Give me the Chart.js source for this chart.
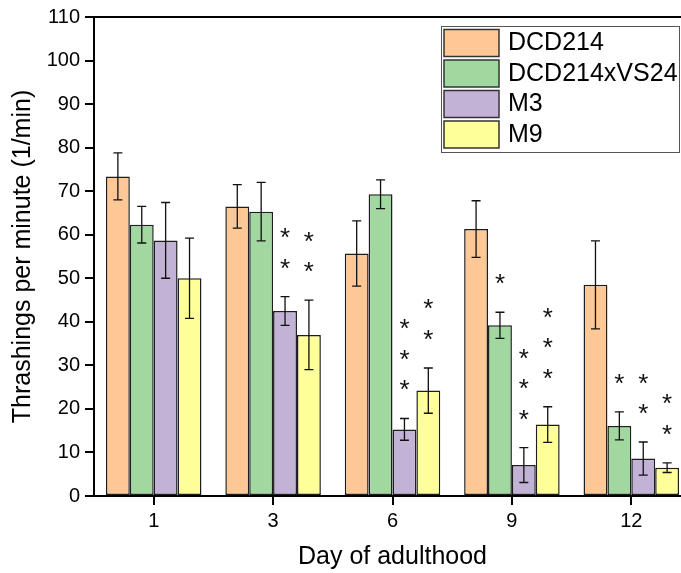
<!DOCTYPE html>
<html>
<head>
<meta charset="utf-8">
<script src="https://cdn.jsdelivr.net/npm/chart.js"></script>
<style>
html, body { margin: 0; padding: 0; background: #fff; overflow: hidden; }
canvas { display: block; }
</style>
</head>
<body>
<canvas id="chart" width="700" height="573"></canvas>
<script>
const days = ['1', '3', '6', '9', '12'];
const seriesNames = ['DCD214', 'DCD214xVS24', 'M3', 'M9'];

const dcd214 = [73.4, 66.5, 55.7, 61.3, 48.5];
const dcd214Err = [5.4, 5.0, 7.5, 6.5, 10.1];
const dcdVs24 = [62.3, 65.3, 69.3, 39.2, 16.1];
const dcdVs24Err = [4.2, 6.7, 3.3, 3.0, 3.2];
const m3 = [58.7, 42.5, 15.3, 7.1, 8.6];
const m3Err = [8.7, 3.3, 2.5, 4.0, 3.8];
const m9 = [50.0, 37.0, 24.2, 16.4, 6.5];
const m9Err = [9.2, 8.0, 5.2, 4.1, 1.1];

// how many asterisks sit above each bar
const dcd214Stars = [0, 0, 0, 0, 0];
const dcdVs24Stars = [0, 0, 0, 1, 1];
const m3Stars = [0, 2, 3, 3, 2];
const m9Stars = [0, 2, 2, 3, 2];

const yTicks = [0, 10, 20, 30, 40, 50, 60, 70, 80, 90, 100, 110];

const FONT = "'Liberation Sans', Arial, sans-serif";

function makeSet(i, data, err, stars, color) {
    return {
        label: seriesNames[i],
        data: data,
        err: err,
        stars: stars,
        backgroundColor: color,
        borderColor: '#1e1e1e',
        borderWidth: 1.5,
        borderSkipped: false,
        categoryPercentage: 0.8,
        barPercentage: 1.0
    };
}

// error bars with caps
const errorBars = {
    id: 'errorBars',
    afterDatasetsDraw(chart) {
        const ctx = chart.ctx;
        const y = chart.scales.y;
        ctx.save();
        ctx.strokeStyle = '#111';
        ctx.lineWidth = 1.3;
        chart.data.datasets.forEach((ds, di) => {
            const meta = chart.getDatasetMeta(di);
            meta.data.forEach((bar, i) => {
                const v = ds.data[i], e = ds.err[i];
                const top = y.getPixelForValue(v + e);
                const bot = y.getPixelForValue(v - e);
                const x = bar.x;
                ctx.beginPath();
                ctx.moveTo(x, top); ctx.lineTo(x, bot);
                ctx.moveTo(x - 4.5, top); ctx.lineTo(x + 4.5, top);
                ctx.moveTo(x - 4.5, bot); ctx.lineTo(x + 4.5, bot);
                ctx.stroke();
            });
        });
        ctx.restore();
    }
};

// significance asterisks stacked above the error bars
const stars = {
    id: 'stars',
    afterDatasetsDraw(chart) {
        const ctx = chart.ctx;
        const y = chart.scales.y;
        ctx.save();
        ctx.fillStyle = '#111';
        ctx.font = '26px ' + FONT;
        ctx.textAlign = 'center';
        ctx.textBaseline = 'alphabetic';
        const m = ctx.measureText('*');
        const shift = (m.actualBoundingBoxDescent - m.actualBoundingBoxAscent) / 2;
        chart.data.datasets.forEach((ds, di) => {
            const meta = chart.getDatasetMeta(di);
            meta.data.forEach((bar, i) => {
                const n = ds.stars[i];
                const top = y.getPixelForValue(ds.data[i] + ds.err[i]);
                for (let k = 0; k < n; k++) {
                    const cy = top - 33 - k * 30.5;
                    ctx.fillText('*', bar.x, cy - shift);
                }
            });
        });
        ctx.restore();
    }
};

// boxed legend inside the plot, upper right
const boxLegend = {
    id: 'boxLegend',
    afterDraw(chart) {
        const ctx = chart.ctx;
        const x0 = 441, y0 = 26, w = 238, h = 126;
        ctx.save();
        ctx.fillStyle = '#fff';
        ctx.fillRect(x0, y0, w, h);
        ctx.strokeStyle = '#555';
        ctx.lineWidth = 1;
        ctx.strokeRect(x0 + 0.5, y0 + 0.5, w, h);
        ctx.font = '25px ' + FONT;
        ctx.textBaseline = 'middle';
        ctx.textAlign = 'left';
        chart.data.datasets.forEach((ds, i) => {
            const sy = 29.5 + i * 30.5;
            ctx.fillStyle = ds.backgroundColor;
            ctx.fillRect(444, sy, 55, 27);
            ctx.strokeStyle = '#333';
            ctx.lineWidth = 1.5;
            ctx.strokeRect(444, sy, 55, 27);
            ctx.fillStyle = '#000';
            ctx.fillText(ds.label, 508, sy + 14);
        });
        ctx.restore();
    }
};

// top and right frame lines
const frame = {
    id: 'frame',
    afterDraw(chart) {
        const a = chart.chartArea;
        const ctx = chart.ctx;
        ctx.save();
        ctx.strokeStyle = '#000';
        ctx.lineWidth = 2;
        ctx.beginPath();
        ctx.moveTo(a.left - 1, a.top);
        ctx.lineTo(a.right, a.top);
        ctx.lineTo(a.right, a.bottom);
        ctx.stroke();
        ctx.restore();
    }
};

new Chart(document.getElementById('chart'), {
    type: 'bar',
    data: {
        labels: days,
        datasets: [
            makeSet(0, dcd214, dcd214Err, dcd214Stars, '#FDC896'),
            makeSet(1, dcdVs24, dcdVs24Err, dcdVs24Stars, '#A0D8A0'),
            makeSet(2, m3, m3Err, m3Stars, '#C2B2D6'),
            makeSet(3, m9, m9Err, m9Stars, '#FFFF99')
        ]
    },
    options: {
        responsive: false,
        animation: false,
        layout: { padding: { top: 16, right: 9, left: 0, bottom: 0 } },
        plugins: {
            legend: { display: false },
            tooltip: { enabled: false }
        },
        scales: {
            x: {
                grid: { offset: false, drawOnChartArea: false, drawTicks: true, tickLength: 9, color: '#000', lineWidth: 2 },
                border: { color: '#000', width: 2 },
                ticks: { color: '#000', font: { family: FONT, size: 20 }, padding: 4 },
                title: { display: true, text: 'Day of adulthood', color: '#000', font: { family: FONT, size: 25 }, padding: { top: 0, bottom: 1 } },
                afterFit(scale) { scale.height = 77; }
            },
            y: {
                min: 0,
                max: 110,
                afterBuildTicks(scale) { scale.ticks = yTicks.map(v => ({ value: v })); },
                grid: { drawOnChartArea: false, drawTicks: true, tickLength: 9, color: '#000', lineWidth: 2 },
                border: { color: '#000', width: 2 },
                ticks: { color: '#000', font: { family: FONT, size: 20 }, padding: 5 },
                title: { display: true, text: 'Thrashings per minute (1/min)', color: '#000', font: { family: FONT, size: 25 }, padding: { top: 8, bottom: 0 } },
                afterFit(scale) { scale.width = 94; }
            }
        }
    },
    plugins: [errorBars, stars, frame, boxLegend]
});
</script>
</body>
</html>
